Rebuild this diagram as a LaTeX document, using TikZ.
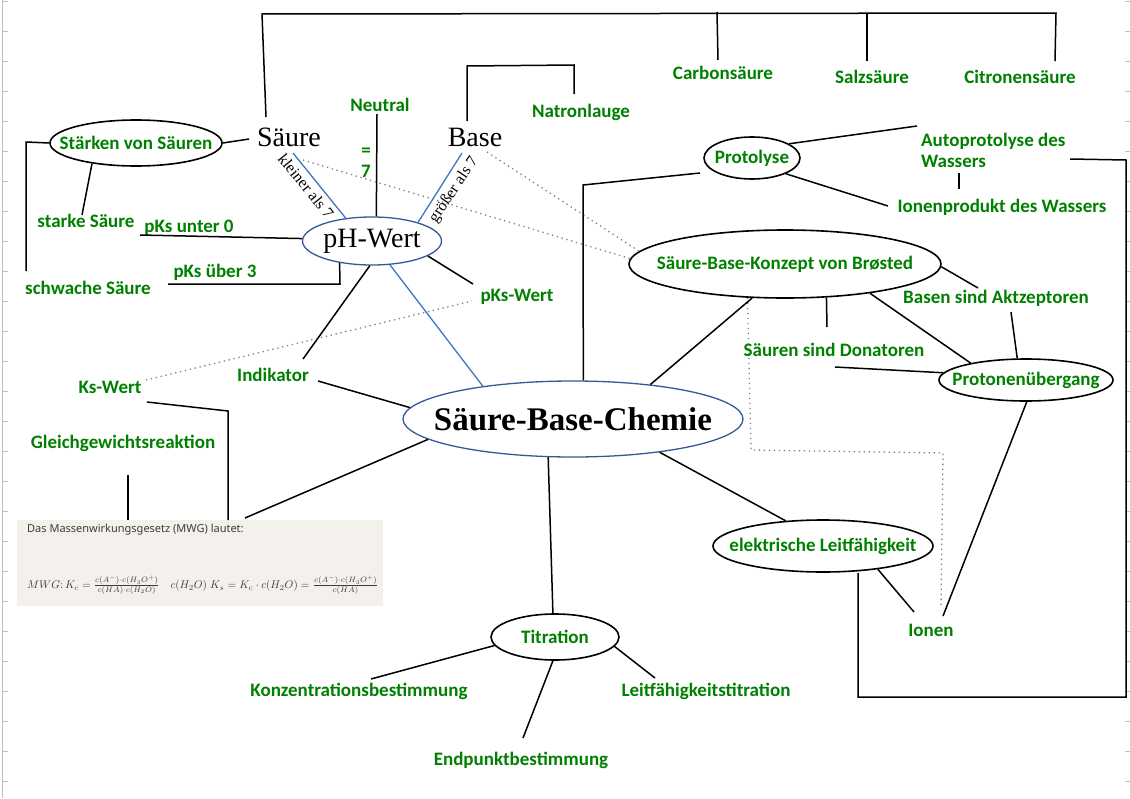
\documentclass[tikz,border=0pt]{standalone}
\usepackage{fontspec}
\setmainfont{Liberation Serif}
\newfontfamily\labfont{Carlito}
\newfontfamily\notefont{Noto Sans}
\usetikzlibrary{shapes.geometric,calc}
\definecolor{lgreen}{RGB}{0,128,0}
\definecolor{pblue}{RGB}{68,114,196}
\definecolor{eblue}{RGB}{50,90,150}
\definecolor{dotgray}{RGB}{128,128,128}
\definecolor{mwgfill}{RGB}{244,241,236}
\definecolor{mwgtext}{RGB}{60,60,60}
\definecolor{rulergray}{RGB}{190,190,190}
\begin{document}
\begin{tikzpicture}[x=1pt,y=-1pt,
  lab/.style={font=\labfont\bfseries\fontsize{19}{21}\selectfont, text=lgreen, inner sep=0pt},
  ser/.style={font=\fontsize{28}{32}\selectfont, inner sep=0pt},
  ell/.style={ellipse, draw=black, line width=1.6pt, inner sep=0pt},
  bell/.style={ellipse, draw=eblue, line width=1.3pt, inner sep=0pt},
  con/.style={line width=1.5pt, black},
  bcon/.style={line width=1.3pt, pblue},
  dcon/.style={line width=1.3pt, dotgray, dash pattern=on 1.3pt off 3.7pt},
  ruler/.style={line width=0.8pt, rulergray}]
\fill[white] (0,0) rectangle (1130,798);
\useasboundingbox (0,0) rectangle (1130,798);
% rulers
\draw[ruler] (2,0) -- (2,798);
\foreach \t in {1,31,...,781} {
  \draw[ruler] (2,\t) -- (8,\t);
  \draw[ruler] (1125,\t) -- (1130,\t);
}
% MWG box
\node[fill=mwgfill, minimum width=366pt, minimum height=86pt, inner sep=0pt, anchor=north west] (mwg) at (17,520) {};
\node[anchor=west, font=\notefont\fontsize{11}{13}\selectfont, text=mwgtext, inner sep=0pt] (mwgt) at (27,530) {Das Massenwirkungsgesetz (MWG) lautet:};
\node[anchor=west, text=mwgtext, inner sep=0pt] (mwgf) at (27,585) {\resizebox{351pt}{!}{$MWG\colon K_c=\frac{c(A^-)\cdot c(H_3O^+)}{c(HA)\cdot c(H_2O)}\quad c(H_2O)\;K_s=K_c\cdot c(H_2O)=\frac{c(A^-)\cdot c(H_3O^+)}{c(HA)}$}};
% ellipses (outline only)
\node[bell, minimum width=139pt, minimum height=48pt] (ph) at (372,241) {};
\node[bell, minimum width=340pt, minimum height=76pt] (chem) at (573,419) {};
\node[ell, minimum width=172pt, minimum height=46pt] (staerken) at (136,143) {};
\node[ell, minimum width=96pt, minimum height=42pt] (proto) at (752,158) {};
\node[ell, minimum width=312pt, minimum height=68pt] (bro) at (785,264) {};
\node[ell, minimum width=174pt, minimum height=42pt] (prot) at (1026,380) {};
\node[ell, minimum width=220pt, minimum height=52pt] (leit) at (823,546) {};
\node[ell, minimum width=128pt, minimum height=46pt] (tit) at (555,637) {};
% serif texts
\node[ser] (saeure) at (289,137) {Säure};
\node[ser] (base) at (475,137) {Base};
\node[ser] (phT) at (ph.center) {pH-Wert};
\node[font=\bfseries\fontsize{33}{36}\selectfont, inner sep=0pt] (chemT) at (chem.center) {Säure-Base-Chemie};
\node[font=\fontsize{16}{18}\selectfont, rotate=-51, inner sep=0pt] (klein) at (306,186) {kleiner als 7};
\node[font=\fontsize{16}{18}\selectfont, rotate=56, inner sep=0pt] (gross) at (454,190) {größer als 7};
% green labels
\node[lab] (staerkenT) at (staerken.center) {Stärken von Säuren};
\node[lab] (protoT) at (proto.center) {Protolyse};
\node[lab] (broT) at (bro.center) {Säure-Base-Konzept von Brøsted};
\node[lab] (protT) at (prot.center) {Protonenübergang};
\node[lab] (leitT) at (leit.center) {elektrische Leitfähigkeit};
\node[lab] (titT) at (tit.center) {Titration};
\node[lab] (neutral) at (380,105) {Neutral};
\node[lab, align=center] (eq) at (366,163) {=\\7};
\node[lab] (natron) at (581,112) {Natronlauge};
\node[lab] (carbon) at (723,73) {Carbonsäure};
\node[lab] (salz) at (872,77) {Salzsäure};
\node[lab] (citro) at (1020,77) {Citronensäure};
\node[lab] (starke) at (86,221) {starke Säure};
\node[lab] (pksu) at (189,228) {pKs unter 0};
\node[lab] (schwach) at (88,288) {schwache Säure};
\node[lab] (pksue) at (215,272) {pKs über 3};
\node[lab, align=left, anchor=west] (auto) at (921,150) {Autoprotolyse des\\Wassers};
\node[lab] (ionprod) at (1002,207) {Ionenprodukt des Wassers};
\node[lab] (basen) at (996,298) {Basen sind Aktzeptoren};
\node[lab] (saeuren) at (834,350) {Säuren sind Donatoren};
\node[lab] (pkswert) at (517,297) {pKs-Wert};
\node[lab] (kswert) at (110,387) {Ks-Wert};
\node[lab] (indik) at (273,375) {Indikator};
\node[lab] (gleich) at (123,443) {Gleichgewichtsreaktion};
\node[lab] (ionen) at (931,630) {Ionen};
\node[lab] (konz) at (359,691) {Konzentrationsbestimmung};
\node[lab] (ltit) at (706,691) {Leitfähigkeitstitration};
\node[lab] (endp) at (521,760) {Endpunktbestimmung};
% free ends
\coordinate (sTop) at (266,117);
\coordinate (tB) at (262,14);
\coordinate (tC) at (1056,13);
\coordinate (citE) at (1055,61);
\coordinate (carT) at (717,12);
\coordinate (carE) at (718,60);
\coordinate (salT) at (867,13);
\coordinate (salE) at (867,61);
\coordinate (bS) at (467,121);
\coordinate (bA) at (467,66);
\coordinate (bB) at (574,65);
\coordinate (natE) at (574,94);
\coordinate (neuE) at (377,114);
\coordinate (sL) at (249,139);
\coordinate (stkE) at (82,215);
\coordinate (lbA) at (26,142);
\coordinate (lbB) at (26,271);
\coordinate (pkuE) at (140,235);
\coordinate (pkaE) at (168,284);
\coordinate (pkaB) at (340,284);
\coordinate (kleinE) at (293,153);
\coordinate (grossE) at (462,153);
\coordinate (pkwE) at (473,284);
\coordinate (indE) at (303,359);
\coordinate (sDot) at (303,160);
\coordinate (bDot) at (487,152);
\coordinate (ksDot) at (146,380);
\coordinate (pkDot) at (472,301);
\coordinate (dd1) at (751,450);
\coordinate (dd2) at (943,453);
\coordinate (dd3) at (941,607);
\coordinate (indC) at (318,381);
\coordinate (mwgC) at (245,518);
\coordinate (prA) at (583,185);
\coordinate (prB) at (700,173);
\coordinate (autoE) at (917,126);
\coordinate (ionpE) at (888,206);
\coordinate (apA) at (959,173);
\coordinate (apB) at (959,189);
\coordinate (bxA) at (1070,159);
\coordinate (bxB) at (1126,160);
\coordinate (bxC) at (1126,697);
\coordinate (bxD) at (858,697);
\coordinate (donE) at (827,327);
\coordinate (basE) at (978,288);
\coordinate (basS) at (1011,312);
\coordinate (donS) at (835,367);
\coordinate (ionE) at (943,616);
\coordinate (ionL) at (914,612);
\coordinate (konzE) at (371,679);
\coordinate (endE) at (523,738);
\coordinate (ltE) at (655,678);
\coordinate (ksA) at (147,402);
\coordinate (ksB) at (228,411);
\coordinate (glA) at (128,475);
% connectors
\draw[con] (sTop) -- (tB) -- (tC) -- (citE);
\draw[con] (carT) -- (carE);
\draw[con] (salT) -- (salE);
\draw[con] (bS) -- (bA) -- (bB) -- (natE);
\draw[con] (neuE) -- (ph.80);
\draw[con] (staerken.0) -- (sL);
\draw[con] (staerken.205) -- (stkE);
\draw[con] (staerken.180) -- (lbA) -- (lbB);
\draw[con] (pkuE) -- (ph.178);
\draw[con] (pkaE) -- (pkaB) -- (ph.214);
\draw[bcon] (kleinE) -- (ph.139);
\draw[bcon] (grossE) -- (ph.22);
\draw[bcon] (ph.-53) -- (chem.160);
\draw[con] (ph.-15) -- (pkwE);
\draw[con] (ph.-95) -- (indE);
\draw[dcon] (sDot) -- (bro.178);
\draw[dcon] (bDot) -- (bro.175);
\draw[dcon] (ksDot) -- (pkDot);
\draw[dcon] (bro.-138) -- (dd1) -- (dd2) -- (dd3);
\draw[con] (indC) -- (chem.176);
\draw[con] (chem.188) -- (mwgC);
\draw[con] (chem.75) -- (prA) -- (prB);
\draw[con] (chem.24) -- (bro.-134);
\draw[con] (chem.-123) -- (tit.95);
\draw[con] (chem.-21) -- (leit.146);
\draw[con] (proto.21) -- (autoE);
\draw[con] (proto.-25) -- (ionpE);
\draw[con] (apA) -- (apB);
\draw[con] (bxA) -- (bxB) -- (bxC) -- (bxD) -- (bxD |- leit.south);
\draw[con] (bro.-39) -- (donE);
\draw[con] (bro.-19) -- (prot.163);
\draw[con] (bro.-1) -- (basE);
\draw[con] (basS) -- (prot.112);
\draw[con] (donS) -- (prot.175);
\draw[con] (prot.-88) -- (ionE);
\draw[con] (leit.-23) -- (ionL);
\draw[con] (tit.188) -- (konzE);
\draw[con] (tit.-95) -- (endE);
\draw[con] (tit.-9) -- (ltE);
\draw[con] (ksA) -- (ksB) -- (ksB |- mwg.north);
\draw[con] (glA) -- (glA |- mwg.north);
\end{tikzpicture}
\end{document}
